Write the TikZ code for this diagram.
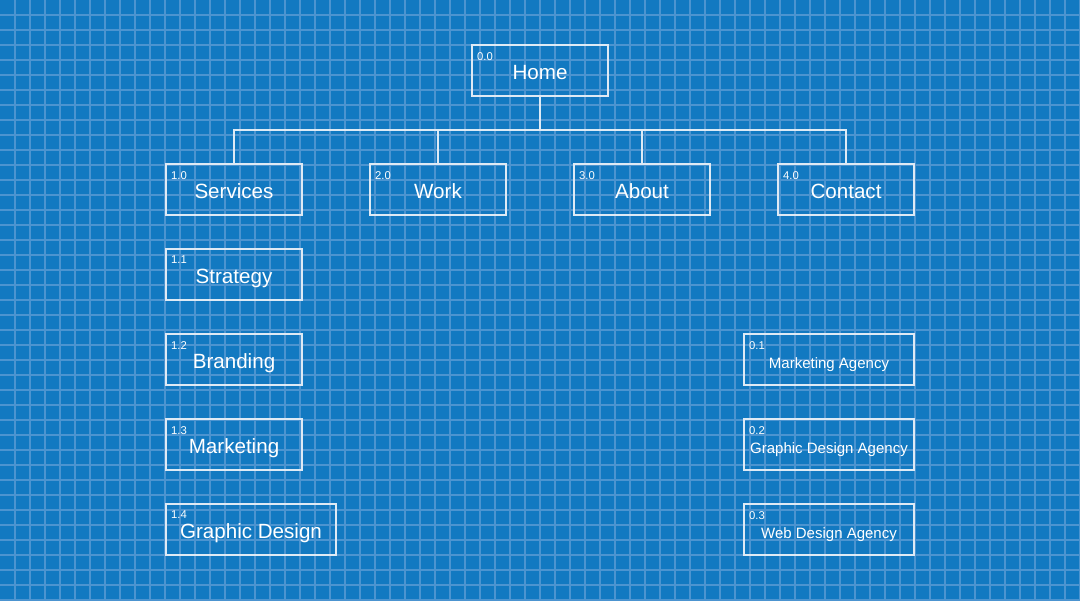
\documentclass[tikz,border=0pt]{standalone}
\usepackage{fontspec}
\setmainfont{Liberation Sans}
\definecolor{bpbg}{RGB}{18,121,193}
\definecolor{bpgrid}{RGB}{76,148,208}
\definecolor{bpline}{RGB}{222,234,245}
\tikzset{
  box/.style={draw=bpline, line width=2pt, rectangle, minimum height=51pt, inner sep=0pt, outer sep=0pt},
  bigbox/.style={box, minimum width=136pt},
  maintext/.style={text=white, font=\fontsize{20.6}{24}\selectfont, anchor=base, inner sep=0pt},
  subtext/.style={text=white, font=\fontsize{15}{18}\selectfont, anchor=base, inner sep=0pt},
  numtext/.style={text=white, font=\fontsize{11.3}{13}\selectfont, anchor=north west, inner sep=0pt},
  conn/.style={draw=bpline, line width=2pt},
  gridline/.style={draw=bpgrid, line width=1.8pt}
}
\begin{document}
\begin{tikzpicture}[x=1pt,y=-1pt]
\useasboundingbox (0,0) rectangle (1080,601);
\fill[bpbg] (0,0) rectangle (1080,601);
\foreach \x in {15,30,...,1080} \draw[gridline] (\x,0) -- (\x,601);
\foreach \y in {15,30,...,600} \draw[gridline] (0,\y) -- (1080,\y);
% top level
\node[bigbox] (home) at (540,70.5) {};
\node[maintext] (homet) at ([yshift=-35pt]home.north) {Home};
\node[numtext] (homen) at ([xshift=5pt,yshift=-7pt]home.north west) {0.0};
\node[bigbox] (services) at (234,189.5) {};
\node[maintext] (servicest) at ([yshift=-35pt]services.north) {Services};
\node[numtext] (servicesn) at ([xshift=5pt,yshift=-7pt]services.north west) {1.0};
\node[bigbox] (work) at (438,189.5) {};
\node[maintext] (workt) at ([yshift=-35pt]work.north) {Work};
\node[numtext] (workn) at ([xshift=5pt,yshift=-7pt]work.north west) {2.0};
\node[bigbox] (about) at (642,189.5) {};
\node[maintext] (aboutt) at ([yshift=-35pt]about.north) {About};
\node[numtext] (aboutn) at ([xshift=5pt,yshift=-7pt]about.north west) {3.0};
\node[bigbox] (contact) at (846,189.5) {};
\node[maintext] (contactt) at ([yshift=-35pt]contact.north) {Contact};
\node[numtext] (contactn) at ([xshift=5pt,yshift=-7pt]contact.north west) {4.0};
% left column
\node[bigbox] (strategy) at (234,274.5) {};
\node[maintext] (strategyt) at ([yshift=-35pt]strategy.north) {Strategy};
\node[numtext] (strategyn) at ([xshift=5pt,yshift=-7pt]strategy.north west) {1.1};
\node[bigbox] (branding) at (234,359.5) {};
\node[maintext] (brandingt) at ([yshift=-35pt]branding.north) {Branding};
\node[numtext] (brandingn) at ([xshift=5pt,yshift=-7pt]branding.north west) {1.2};
\node[bigbox] (marketing) at (234,444.5) {};
\node[maintext] (marketingt) at ([yshift=-35pt]marketing.north) {Marketing};
\node[numtext] (marketingn) at ([xshift=5pt,yshift=-7pt]marketing.north west) {1.3};
\node[box, minimum width=170pt] (graphic) at (251,529.5) {};
\node[maintext] (graphict) at ([yshift=-35pt]graphic.north) {Graphic Design};
\node[numtext] (graphicn) at ([xshift=5pt,yshift=-7pt]graphic.north west) {1.4};
% right column
\node[box, minimum width=170pt] (agency1) at (829,359.5) {};
\node[subtext] (agency1t) at ([yshift=-34.5pt]agency1.north) {Marketing Agency};
\node[numtext] (agency1n) at ([xshift=5pt,yshift=-7pt]agency1.north west) {0.1};
\node[box, minimum width=170pt] (agency2) at (829,444.5) {};
\node[subtext] (agency2t) at ([yshift=-34.5pt]agency2.north) {Graphic Design Agency};
\node[numtext] (agency2n) at ([xshift=5pt,yshift=-7pt]agency2.north west) {0.2};
\node[box, minimum width=170pt] (agency3) at (829,529.5) {};
\node[subtext] (agency3t) at ([yshift=-34.5pt]agency3.north) {Web Design Agency};
\node[numtext] (agency3n) at ([xshift=5pt,yshift=-7pt]agency3.north west) {0.3};
% connectors
\coordinate (bus) at (540,130);
\draw[conn] (home.south) -- (bus);
\draw[conn] (services.north) -- (services.north |- bus) -- (contact.north |- bus) -- (contact.north);
\draw[conn] (work.north) -- (work.north |- bus);
\draw[conn] (about.north) -- (about.north |- bus);
\end{tikzpicture}
\end{document}
